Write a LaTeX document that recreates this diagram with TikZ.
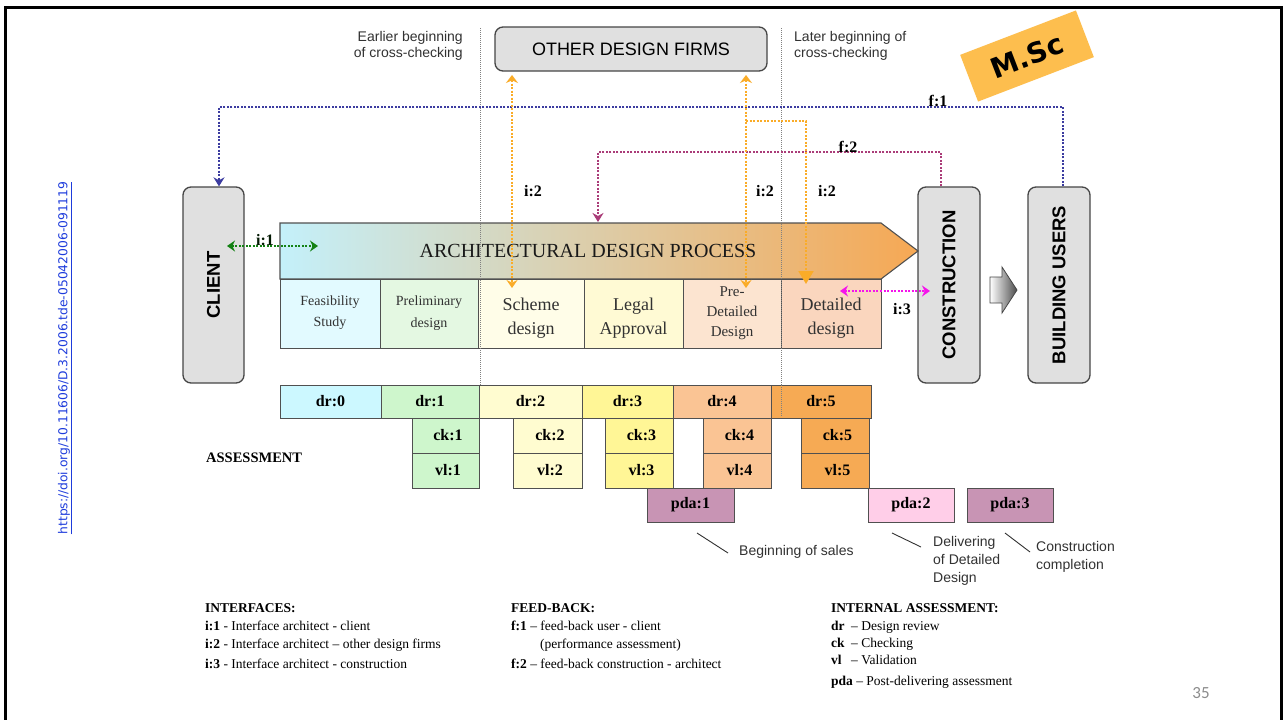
\documentclass[tikz,border=0pt]{standalone}
\usepackage{fontspec}
\setmainfont{Liberation Serif}
\setsansfont{Liberation Sans}
\newfontfamily\dejavu{DejaVu Sans}
\newfontfamily\carlito{Carlito}
\usetikzlibrary{arrows.meta,shapes.geometric}
\newcommand{\myfs}[2]{\fontsize{#1}{#2}\selectfont}
\definecolor{boxgray}{RGB}{224,224,224}
\definecolor{boxline}{RGB}{70,70,70}
\definecolor{cellline}{RGB}{80,80,80}
\definecolor{txtgray}{RGB}{50,50,50}
\definecolor{iorange}{RGB}{250,172,40}
\definecolor{fone}{RGB}{60,60,160}
\definecolor{ftwo}{RGB}{170,60,120}
\definecolor{ione}{RGB}{20,130,20}
\definecolor{ithree}{RGB}{245,20,235}
\definecolor{archL}{RGB}{196,240,250}
\definecolor{archM}{RGB}{240,228,205}
\definecolor{archR}{RGB}{246,168,84}
\definecolor{cFeas}{RGB}{226,250,255}
\definecolor{cPrel}{RGB}{228,248,226}
\definecolor{cSch}{RGB}{255,253,232}
\definecolor{cLeg}{RGB}{255,250,212}
\definecolor{cPre}{RGB}{252,228,208}
\definecolor{cDet}{RGB}{250,214,190}
\definecolor{dZero}{RGB}{204,248,255}
\definecolor{dOne}{RGB}{206,246,204}
\definecolor{dTwo}{RGB}{255,252,208}
\definecolor{dThree}{RGB}{255,246,150}
\definecolor{dFour}{RGB}{250,196,148}
\definecolor{dFive}{RGB}{246,170,84}
\definecolor{pdaM}{RGB}{200,148,180}
\definecolor{pdaP}{RGB}{255,206,232}
\definecolor{mscorange}{RGB}{253,190,78}
\definecolor{doiblue}{RGB}{30,60,220}
\definecolor{numgray}{RGB}{140,140,140}
\tikzset{
  roundbox/.style={draw=boxline, line width=1.3pt, fill=boxgray, rounded corners=8pt, inner sep=0pt},
  cell/.style={draw=cellline, line width=1pt, inner sep=0pt},
  celltext/.style={align=center, text=txtgray, inner sep=0pt},
  asm/.style={draw=cellline, line width=1pt, inner sep=0pt, font=\bfseries\myfs{16}{18}},
  odot/.style={line width=2pt, dash pattern=on 2pt off 1.5pt},
  vguide/.style={draw=gray, line width=0.9pt, dash pattern=on 1pt off 1pt},
  sanslbl/.style={font=\sffamily\myfs{14}{16}, text=txtgray, inner sep=0pt},
  boldlbl/.style={font=\bfseries\myfs{16}{18}, inner sep=0pt},
  leg/.style={anchor=base west, inner sep=0pt, font=\myfs{13.5}{16}},
  leader/.style={draw=txtgray, line width=0.9pt}
}
\begin{document}
\begin{tikzpicture}[x=1pt,y=-1pt]
\useasboundingbox (0,0) rectangle (1283,720);
\fill[white] (0,0) rectangle (1283,720);
% frame
\draw[line width=2.6pt] (5.5,740) -- (5.5,7.5) -- (1281.5,7.5) -- (1281.5,740);

% guide lines
\coordinate (gA1) at (480,28); \coordinate (gA2) at (480,385);
\coordinate (gB1) at (781,28); \coordinate (gB2) at (781,417);

% header texts
\node[sanslbl, anchor=east, align=right] (early) at (463,46) {Earlier beginning\\of cross-checking};
\node[sanslbl, anchor=west, align=left] (later) at (794,46) {Later beginning of\\cross-checking};
\node[roundbox, minimum width=272pt, minimum height=44pt, font=\sffamily\myfs{18}{20}] (odf) at (631,49) {OTHER DESIGN FIRMS};

% M.Sc badge
\node[fill=mscorange, rotate=21, minimum width=124pt, minimum height=50pt, inner sep=0pt] (msc) at (1027,56) {};
\node[rotate=21, inner sep=0pt, font=\dejavu\bfseries\myfs{28}{30}] (msctext) at (msc.center) {M.Sc};

% side boxes
\node[roundbox, minimum width=61pt, minimum height=196pt] (client) at (213.5,285) {};
\node[rotate=90, font=\sffamily\bfseries\myfs{18.5}{20}] at (client.center) {CLIENT};
\node[roundbox, minimum width=62pt, minimum height=196pt] (cons) at (949,285) {};
\node[rotate=90, font=\sffamily\bfseries\myfs{18.5}{20}] at (cons.center) {CONSTRUCTION};
\node[roundbox, minimum width=62pt, minimum height=196pt] (bu) at (1059,285) {};
\node[rotate=90, font=\sffamily\bfseries\myfs{18.5}{20}] at (bu.center) {BUILDING USERS};

% block arrow between construction and building users
\shadedraw[left color=white, right color=black!70, draw=boxline, line width=0.8pt]
  (990,277) -- (1002,277) -- (1002,267) -- (1017,290) -- (1002,313) -- (1002,303) -- (990,303) -- cycle;

% architectural design process arrow
\shade[left color=archL, middle color=archM, right color=archR]
  (280,223) -- (881,223) -- (918,251) -- (881,279) -- (280,279) -- cycle;
\draw[draw=cellline, line width=1.1pt]
  (280,223) -- (881,223) -- (918,251) -- (881,279) -- (280,279) -- cycle;
\node[font=\myfs{20}{22}, text=black!90, inner sep=0pt] (adp) at (588,251) {ARCHITECTURAL DESIGN PROCESS};

% stage cells
\node[cell, fill=cFeas, minimum width=100pt, minimum height=69pt] (feas) at (330,313.5) {};
\node[cell, fill=cPrel, minimum width=98pt, minimum height=69pt] (prel) at (429,313.5) {};
\node[cell, fill=cSch, minimum width=106pt, minimum height=69pt] (sch) at (531,313.5) {};
\node[cell, fill=cLeg, minimum width=99pt, minimum height=69pt] (legal) at (633.5,313.5) {};
\node[cell, fill=cPre, minimum width=98pt, minimum height=69pt] (pred) at (732,313.5) {};
\node[cell, fill=cDet, minimum width=100pt, minimum height=69pt] (det) at (831,313.5) {};
\node[celltext, font=\myfs{14}{21}] at (330,313) {Feasibility\\Study};
\node[celltext, font=\myfs{14}{22}] at (429,313) {Preliminary\\design};
\node[celltext, font=\myfs{18}{24}] at (531,318) {Scheme\\design};
\node[celltext, font=\myfs{18}{24}] at (633.5,318) {Legal\\Approval};
\node[celltext, font=\myfs{15}{20}] at (732,313) {Pre-\\Detailed\\Design};
\node[celltext, font=\myfs{18}{24}] at (831,318) {Detailed\\design};

% guide lines drawn over
\draw[vguide] (gA1) -- (gA2);
\draw[vguide] (gB1) -- (gB2);

% f:1 feedback
\draw[fone, odot, -{Stealth[length=9pt,width=11pt]}] ([xshift=4pt]bu.north) |- (600,107) -| ([xshift=5.5pt]client.north);
\node[boldlbl, anchor=base] (f1) at (938,106) {f:1};

% f:2 feedback
\coordinate (f2end) at (598,222);
\draw[ftwo, odot, -{Stealth[length=9pt,width=11pt]}] ([xshift=-8pt]cons.north) |- (760,152) -| (f2end);
\node[boldlbl, anchor=base] (f2) at (848,152) {f:2};

% i:2 interfaces
\coordinate (i2aT) at (512,75); \coordinate (i2aB) at (512,288);
\coordinate (i2bT) at (746,75); \coordinate (i2bB) at (746,288);
\coordinate (i2cS) at (746,121); \coordinate (i2cB) at (806,284);
\draw[iorange, odot, {Stealth[length=8pt,width=12pt]}-{Stealth[length=8pt,width=11pt]}] (i2aT) -- (i2aB);
\draw[iorange, odot, {Stealth[length=8pt,width=12pt]}-{Stealth[length=8pt,width=11pt]}] (i2bT) -- (i2bB);
\draw[iorange, odot, -{Triangle[length=13pt,width=15pt]}] (i2cS) -| (i2cB);
\node[boldlbl] at (533,191) {i:2};
\node[boldlbl] at (765,191) {i:2};
\node[boldlbl] at (827,191) {i:2};

% i:1 and i:3
\coordinate (i1L) at (227,246); \coordinate (i1R) at (318,246);
\draw[ione, odot, {Stealth[length=8pt,width=11pt]}-{Stealth[length=8pt,width=11pt]}] (i1L) -- (i1R);
\node[boldlbl, text=black!80!ione] at (265,240) {i:1};
\coordinate (i3L) at (840,291); \coordinate (i3R) at (930,291);
\draw[ithree, odot, {Stealth[length=8pt,width=11pt]}-{Stealth[length=8pt,width=11pt]}] (i3L) -- (i3R);
\node[boldlbl] at (902,309) {i:3};

% design reviews
\node[asm, fill=dZero, minimum width=101pt, minimum height=33pt] (dr0) at (330.5,401.5) {dr:0};
\node[asm, fill=dOne, minimum width=98pt, minimum height=33pt] (dr1) at (430,401.5) {dr:1};
\node[asm, fill=dTwo, minimum width=103pt, minimum height=33pt] (dr2) at (530.5,401.5) {dr:2};
\node[asm, fill=dThree, minimum width=91pt, minimum height=33pt] (dr3) at (627.5,401.5) {dr:3};
\node[asm, fill=dFour, minimum width=98pt, minimum height=33pt] (dr4) at (722,401.5) {dr:4};
\node[asm, fill=dFive, minimum width=100pt, minimum height=33pt] (dr5) at (821,401.5) {dr:5};
\draw[vguide] (781,385) -- (781,417);

% checking / validation
\node[asm, fill=dOne, minimum width=67pt, minimum height=35pt] (ck1) at (445.5,435.5) {\hspace{5pt}ck:1};
\node[asm, fill=dOne, minimum width=67pt, minimum height=35pt] (vl1) at (445.5,470.5) {\hspace{5pt}vl:1};
\node[asm, fill=dTwo, minimum width=69pt, minimum height=35pt] (ck2) at (547.5,435.5) {\hspace{5pt}ck:2};
\node[asm, fill=dTwo, minimum width=69pt, minimum height=35pt] (vl2) at (547.5,470.5) {\hspace{5pt}vl:2};
\node[asm, fill=dThree, minimum width=68pt, minimum height=35pt] (ck3) at (639,435.5) {\hspace{5pt}ck:3};
\node[asm, fill=dThree, minimum width=68pt, minimum height=35pt] (vl3) at (639,470.5) {\hspace{5pt}vl:3};
\node[asm, fill=dFour, minimum width=68pt, minimum height=35pt] (ck4) at (737,435.5) {\hspace{5pt}ck:4};
\node[asm, fill=dFour, minimum width=68pt, minimum height=35pt] (vl4) at (737,470.5) {\hspace{5pt}vl:4};
\node[asm, fill=dFive, minimum width=68pt, minimum height=35pt] (ck5) at (835,435.5) {\hspace{5pt}ck:5};
\node[asm, fill=dFive, minimum width=68pt, minimum height=35pt] (vl5) at (835,470.5) {\hspace{5pt}vl:5};

% post-delivering assessment
\node[asm, fill=pdaM, minimum width=87pt, minimum height=34pt] (pda1) at (690.5,505) {pda:1};
\node[asm, fill=pdaP, minimum width=86pt, minimum height=34pt] (pda2) at (911,505) {pda:2};
\node[asm, fill=pdaM, minimum width=86pt, minimum height=34pt] (pda3) at (1010,505) {pda:3};

\node[anchor=west, inner sep=0pt, font=\bfseries\myfs{14.5}{16}] (assess) at (206,458) {ASSESSMENT};

% annotations
\node[sanslbl, anchor=west] (sales) at (739,552) {Beginning of sales};
\node[sanslbl, anchor=north west, align=left, font=\sffamily\myfs{14}{18}] (deliv) at (933,536) {Delivering\\of Detailed\\Design};
\node[sanslbl, anchor=north west, align=left, font=\sffamily\myfs{14}{18.5}] (compl) at (1036,541) {Construction\\completion};
\draw[leader] (697,533) -- (728,553);
\draw[leader] (892,533) -- (921,547);
\draw[leader] (1005,533) -- (1030,552);

% legends
\node[leg] at (205,612) {\bfseries INTERFACES:};
\node[leg] at (205,630) {\textbf{i:1} - Interface architect - client};
\node[leg] at (205,648) {\textbf{i:2} - Interface architect -- other design firms};
\node[leg] at (205,668) {\textbf{i:3} - Interface architect - construction};

\node[leg] at (511,612) {\bfseries FEED-BACK:};
\node[leg] at (511,630) {\textbf{f:1} -- feed-back user - client};
\node[leg] at (540,648) {(performance assessment)};
\node[leg] at (511,668) {\textbf{f:2} -- feed-back construction - architect};

\node[leg] at (831,612) {\bfseries INTERNAL ASSESSMENT:};
\node[leg] at (831,630) {\makebox[20pt][l]{\bfseries dr}-- Design review};
\node[leg] at (831,647) {\makebox[20pt][l]{\bfseries ck}-- Checking};
\node[leg] at (831,664) {\makebox[20pt][l]{\bfseries vl}-- Validation};
\node[leg] at (831,685) {\textbf{pda} -- Post-delivering assessment};

% page number
\node[font=\carlito\myfs{17}{19}, text=numgray, inner sep=0pt] (pg) at (1201,693) {35};

% doi link
\node[rotate=90, font=\dejavu\myfs{12.3}{14}, text=doiblue, inner sep=0pt] (doi) at (65,358) {\underline{https://doi.org/10.11606/D.3.2006.tde-05042006-091119}};
\end{tikzpicture}
\end{document}
